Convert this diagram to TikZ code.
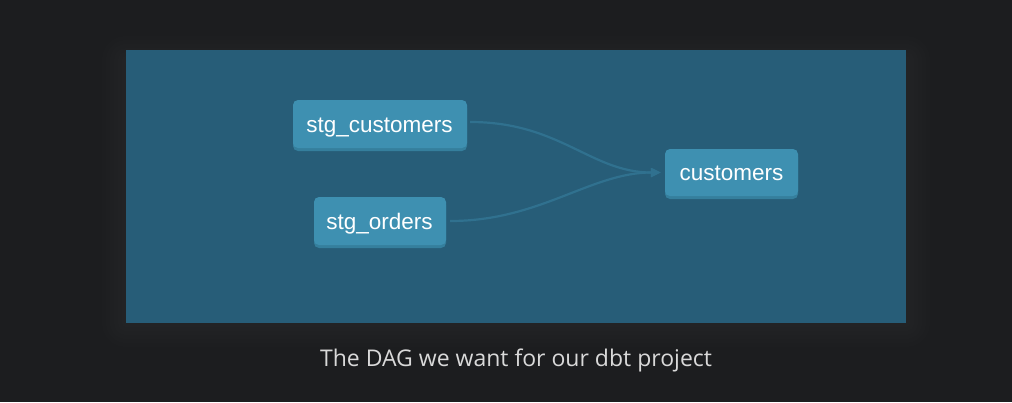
\documentclass[tikz,border=0pt]{standalone}
\usepackage{fontspec}
\setmainfont{Liberation Sans}
\newfontfamily\capfont{Open Sans}
\usetikzlibrary{arrows.meta}
\definecolor{bgc}{HTML}{1C1D1F}
\definecolor{panelc}{HTML}{275D78}
\definecolor{nodec}{HTML}{3E90B1}
\definecolor{nodeshc}{HTML}{357F9D}
\definecolor{edgec}{HTML}{30718F}
\definecolor{capc}{HTML}{D9D9D9}
\begin{document}
\begin{tikzpicture}[x=1pt,y=-1pt,
  model/.style={fill=nodec, rounded corners=5pt, text=white, inner sep=0pt,
    font=\fontsize{22.5}{26}\selectfont, minimum height=48pt, anchor=center},
  lbl/.style={text=white, inner sep=0pt, font=\fontsize{22.5}{26}\selectfont, anchor=base},
  edge/.style={draw=edgec, line width=2.2pt, -{Triangle[length=10pt,width=9pt]}},
]
\fill[bgc] (0,0) rectangle (1012,402);
\useasboundingbox (0,0) rectangle (1012,402);
% panel soft shadow
\foreach \i in {24,20,16,12,8,4}{
  \fill[white, opacity=0.008, rounded corners=\i pt] (126-\i,50-\i+10) rectangle (906+\i,323+\i);
}
\fill[panelc] (126,50) rectangle (906,323);
% node shadows
\fill[nodeshc, rounded corners=5pt] (293,103) rectangle (467,151);
\fill[nodeshc, rounded corners=5pt] (314,200) rectangle (446,248);
\fill[nodeshc, rounded corners=5pt] (665,152) rectangle (798,199);
% nodes
\node[model, minimum width=174pt] (sc) at (380,124) {};
\node[model, minimum width=132pt] (so) at (380,221) {};
\node[model, minimum width=133pt, minimum height=47pt] (cu) at (731.5,172.5) {};
\node[lbl] (scl) at (379.5,132) {stg\_customers};
\node[lbl] (sol) at (379.5,229) {stg\_orders};
\node[lbl] (cul) at (731.5,180) {customers};
% edges
\draw[edge] ([xshift=3pt,yshift=2pt]sc.east) .. controls +(90,0) and +(-70,0) .. ([xshift=-4pt]cu.west);
\draw[edge] ([xshift=4pt]so.east) .. controls +(90,0) and +(-70,0) .. ([xshift=-4pt]cu.west);
% caption
\node[text=capc, font=\capfont\fontsize{23}{28}\selectfont] (cap) at (516,360) {The DAG we want for our dbt project};
\end{tikzpicture}
\end{document}
